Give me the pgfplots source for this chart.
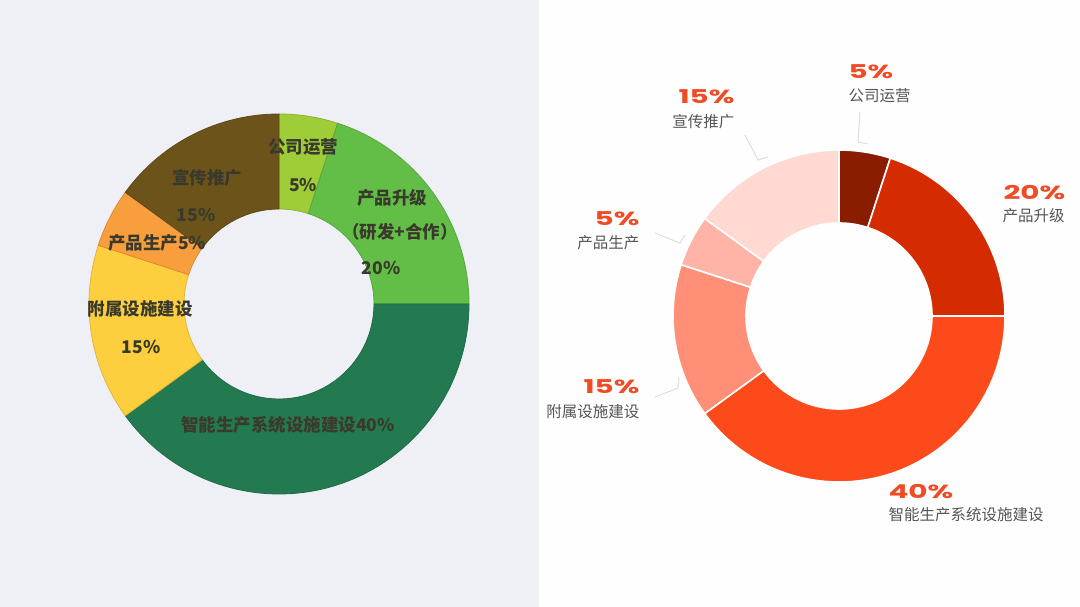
\documentclass[border=0pt]{standalone}
\usepackage{pgfplots}
\pgfplotsset{compat=1.18}
\usepackage{pgfplotstable}
\usepackage{fontspec}
\setmainfont{Noto Sans CJK SC}
\newfontfamily\pctfont{Poppins}[FakeStretch=1.55]

\definecolor{bgleft}{HTML}{EEF0F5}
\definecolor{bgright}{HTML}{FEFEFE}
\definecolor{lefttext}{HTML}{3A3A2C}
\definecolor{pcttext}{HTML}{F04B24}
\definecolor{graytext}{HTML}{555555}
\definecolor{leader}{HTML}{DEDEDE}
% left donut
\definecolor{L0}{HTML}{9FCD37}
\definecolor{L1}{HTML}{63BE48}
\definecolor{L2}{HTML}{247A50}
\definecolor{L3}{HTML}{FDCF3F}
\definecolor{L4}{HTML}{F99E3C}
\definecolor{L5}{HTML}{6C531A}
% right donut
\definecolor{R0}{HTML}{8A1C00}
\definecolor{R1}{HTML}{D52B00}
\definecolor{R2}{HTML}{FC4A1A}
\definecolor{R3}{HTML}{FF8F77}
\definecolor{R4}{HTML}{FFB4A7}
\definecolor{R5}{HTML}{FFD9D2}

% shares in percent, clockwise from 12 o'clock
\pgfplotstableread{
part value
ops 5
upgrade 20
smart 40
aux 15
production 5
promo 15
}\shares

% #1 cx, #2 cy, #3 outer r, #4 inner r, #5 colour prefix, #6 stroke options
\newcommand\donut[6]{%
  \pgfplotstablegetrowsof{\shares}%
  \pgfmathtruncatemacro\lastrow{\pgfplotsretval-1}%
  \gdef\cum{0}%
  \foreach \i in {0,...,\lastrow}{%
    \pgfplotstablegetelem{\i}{value}\of\shares
    \let\v\pgfplotsretval
    \pgfmathsetmacro\a{90-3.6*\cum}%
    \pgfmathsetmacro\b{90-3.6*(\cum+\v)}%
    \pgfmathsetmacro\newcum{\cum+\v}%
    \xdef\cum{\newcum}%
    \filldraw[fill=#5\i,#6]
      (axis cs:{#1+#3*cos(\a)},{#2+#3*sin(\a)})
      arc[start angle=\a,end angle=\b,radius=#3pt]
      -- (axis cs:{#1+#4*cos(\b)},{#2+#4*sin(\b)})
      arc[start angle=\b,end angle=\a,radius=#4pt] -- cycle;
  }}

\begin{document}
\begin{tikzpicture}
\begin{axis}[
  x=1pt, y=1pt,
  xmin=0, xmax=1080, ymin=0, ymax=607,
  hide axis, clip=false,
  every node/.style={inner sep=0pt},
]
\addplot[draw=none] coordinates {(0,0) (1080,607)};
\pgfplotsextra{
  \fill[bgleft] (axis cs:0,0) rectangle (axis cs:537,607);
  \fill[bgright] (axis cs:537,0) rectangle (axis cs:1080,607);
  \fill[black!6] (axis cs:535,0) rectangle (axis cs:539,607);
  \donut{279}{303}{190}{95}{L}{draw=L\i!88!black,line width=0.8pt}
  \donut{839}{291}{166}{93}{R}{draw=white,line width=1.6pt}
  % leader lines
  \draw[leader,line width=1pt] (axis cs:860,495) -- (axis cs:858,465) -- (axis cs:868,463);
  \draw[leader,line width=1pt] (axis cs:745,472) -- (axis cs:758,447) -- (axis cs:768,450);
  \draw[leader,line width=1pt] (axis cs:655,374) -- (axis cs:680,364) -- (axis cs:685,372);
  \draw[leader,line width=1pt] (axis cs:655,210) -- (axis cs:678,219) -- (axis cs:679,230);
}

% left labels
\begin{scope}[every node/.append style={text=lefttext,font=\bfseries\fontsize{17.5}{20}\selectfont}]
\node at (axis cs:303,460) {公司运营};
\node at (axis cs:303,422) {5\%};
\node at (axis cs:392,409) {产品升级};
\node at (axis cs:400,375) {（研发+合作）};
\node at (axis cs:381,339) {20\%};
\node at (axis cs:288,182) {智能生产系统设施建设40\%};
\node at (axis cs:140,298) {附属设施建设};
\node at (axis cs:141,260) {15\%};
\node at (axis cs:157,364) {产品生产5\%};
\node at (axis cs:207,429) {宣传推广};
\node at (axis cs:196,392) {15\%};
\end{scope}

% right labels
\begin{scope}[every node/.append style={text=pcttext,font=\pctfont\bfseries\fontsize{19}{22}\selectfont}]
\node[anchor=west] at (axis cs:845,535) {5\%};
\node[anchor=east] at (axis cs:738,510) {15\%};
\node[anchor=west] at (axis cs:1000,414) {20\%};
\node[anchor=east] at (axis cs:643,388) {5\%};
\node[anchor=east] at (axis cs:643,220) {15\%};
\node[anchor=west] at (axis cs:885,115) {40\%};
\end{scope}
\begin{scope}[every node/.append style={text=graytext,font=\fontsize{15.5}{18}\selectfont}]
\node[anchor=west] at (axis cs:845,511) {公司运营};
\node[anchor=east] at (axis cs:738,485) {宣传推广};
\node[anchor=west] at (axis cs:999,391) {产品升级};
\node[anchor=east] at (axis cs:643,364) {产品生产};
\node[anchor=east] at (axis cs:643,195) {附属设施建设};
\node[anchor=west] at (axis cs:885,92) {智能生产系统设施建设};
\end{scope}
\end{axis}
\end{tikzpicture}
\end{document}
